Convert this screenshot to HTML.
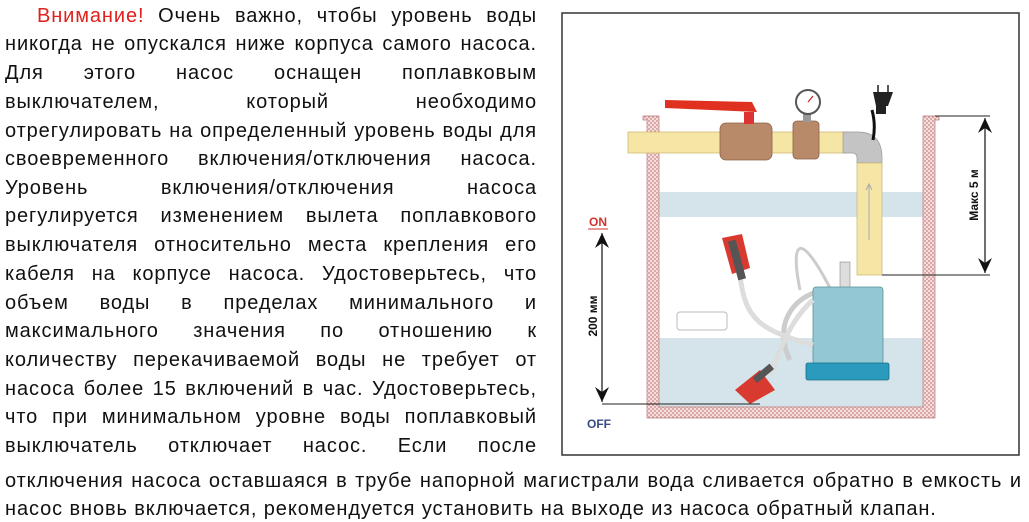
<!DOCTYPE html>
<html><head><meta charset="utf-8"><style>
html,body{margin:0;padding:0;background:#fff;width:1029px;height:522px;overflow:hidden;position:relative}
.l{position:absolute;left:5px;width:532px;font-family:"Liberation Sans",sans-serif;font-size:20px;letter-spacing:0.9px;color:#111;white-space:nowrap;text-align:justify;text-align-last:justify;line-height:22px;height:22px}
.w{width:1017px}
.r{color:#e0201c}
svg{position:absolute;left:0;top:0}
</style></head><body>
<svg width="1029" height="522" viewBox="0 0 1029 522">
<defs>
<pattern id="br" width="4" height="4" patternUnits="userSpaceOnUse"><rect width="4" height="4" fill="#f4dede"/><circle cx="1" cy="1" r="0.9" fill="#c98080"/><circle cx="3" cy="3" r="0.9" fill="#c98080"/></pattern>
<marker id="ah" markerWidth="16" markerHeight="14" refX="15" refY="7" orient="auto-start-reverse" markerUnits="userSpaceOnUse"><path d="M0,0 L15,7 L0,14 L5,7 Z" fill="#111"/></marker>
</defs>
<rect x="562" y="13" width="457" height="442" fill="#fff" stroke="#333" stroke-width="1.5"/>
<rect x="659" y="192" width="264" height="25" fill="#d4e4ea"/>
<rect x="659" y="338" width="264" height="69" fill="#d4e4ea"/>
<path d="M643,116 H659 V407 H923 V116 H939 V120 H935 V418 H647 V120 H643 Z" fill="url(#br)" stroke="#b77" stroke-width="0.7"/>
<rect x="628" y="132" width="218" height="21" fill="#f6e6a6" stroke="#c9b36a" stroke-width="0.7"/>
<path d="M843,132 H858 Q882,132 882,158 V163 H857 V158 Q857,153 852,153 H843 Z" fill="#c4c4c4" stroke="#999" stroke-width="0.7"/>
<rect x="857" y="163" width="25" height="112" fill="#f6e6a6" stroke="#c9b36a" stroke-width="0.7"/>
<path d="M869,240 V185 M866,190 L869,184 L872,190" stroke="#aaa" fill="none"/>
<rect x="720" y="123" width="52" height="37" rx="6" fill="#b88a6a" stroke="#8a6245" stroke-width="0.8"/>
<rect x="744" y="112" width="10" height="12" fill="#d33"/>
<path d="M665,100 L752,102 L757,112 L665,108 Z" fill="#e0301f"/>
<rect x="793" y="121" width="26" height="38" rx="4" fill="#b88a6a" stroke="#8a6245" stroke-width="0.8"/>
<rect x="803" y="113" width="8" height="9" fill="#999"/>
<circle cx="808" cy="102" r="12" fill="#fff" stroke="#555" stroke-width="2"/>
<line x1="808" y1="102" x2="813" y2="96" stroke="#c22" stroke-width="1.2"/>
<path d="M872,110 Q876,125 873,140" stroke="#111" stroke-width="3" fill="none"/>
<path d="M873,92 H893 L888,106 H876 Z" fill="#222"/>
<rect x="876" y="104" width="10" height="10" fill="#222"/>
<line x1="878" y1="92" x2="878" y2="85" stroke="#555" stroke-width="2"/><line x1="888" y1="92" x2="888" y2="85" stroke="#555" stroke-width="2"/>
<path d="M790,360 C770,320 800,290 830,290" stroke="#ccc" stroke-width="5" fill="none"/>
<path d="M800,290 C790,240 800,230 830,288" stroke="#ccc" stroke-width="3" fill="none"/>
<rect x="840" y="262" width="10" height="27" fill="#ddd" stroke="#888" stroke-width="0.6"/>
<rect x="813" y="287" width="70" height="77" rx="3" fill="#92c7d3" stroke="#5a8f9c" stroke-width="0.8"/>
<rect x="806" y="363" width="83" height="17" rx="2" fill="#2a9bbd" stroke="#1a6d86" stroke-width="0.8"/>
<path d="M740,275 C745,320 760,330 813,345" stroke="#ddd" stroke-width="5" fill="none"/>
<path d="M722,238 L742,234 L750,268 L732,274 Z" fill="#d83a30"/>
<rect x="733" y="240" width="8" height="40" fill="#555" transform="rotate(-15 737 260)"/>
<rect x="677" y="312" width="50" height="18" rx="3" fill="#fff" stroke="#bbb"/>
<path d="M813,300 C790,320 780,350 770,375" stroke="#ddd" stroke-width="5" fill="none"/>
<path d="M735,390 L760,370 L775,390 L750,404 Z" fill="#d83a30"/>
<rect x="752" y="370" width="22" height="7" fill="#555" transform="rotate(-40 763 373)"/>
<line x1="935" y1="116" x2="990" y2="116" stroke="#222"/>
<line x1="882" y1="275" x2="990" y2="275" stroke="#222"/>
<line x1="985" y1="118" x2="985" y2="273" stroke="#111" stroke-width="1.2" marker-start="url(#ah)" marker-end="url(#ah)"/>
<text transform="translate(978,195) rotate(-90)" text-anchor="middle" font-family="Liberation Sans,sans-serif" font-weight="bold" font-size="12" fill="#111">Макс 5 м</text>
<line x1="602" y1="404" x2="760" y2="404" stroke="#222"/>
<line x1="602" y1="233" x2="602" y2="402" stroke="#111" stroke-width="1.2" marker-start="url(#ah)" marker-end="url(#ah)"/>
<text transform="translate(597,316) rotate(-90)" text-anchor="middle" font-family="Liberation Sans,sans-serif" font-weight="bold" font-size="12" fill="#111">200 мм</text>
<text x="598" y="226" text-anchor="middle" font-family="Liberation Sans,sans-serif" font-weight="bold" font-size="12" fill="#d0342c">ON</text>
<line x1="588" y1="229" x2="608" y2="229" stroke="#d0342c"/>
<text x="599" y="428" text-anchor="middle" font-family="Liberation Sans,sans-serif" font-weight="bold" font-size="12" fill="#3a4a86">OFF</text>
</svg>
<div class="l" style="top:5px;left:37px;width:500px"><span class="r">Внимание!</span> Очень важно, чтобы уровень воды</div>
<div class="l" style="top:33px">никогда не опускался ниже корпуса самого насоса.</div>
<div class="l" style="top:62px">Для этого насос оснащен поплавковым</div>
<div class="l" style="top:91px">выключателем, который необходимо</div>
<div class="l" style="top:120px">отрегулировать на определенный уровень воды для</div>
<div class="l" style="top:148px">своевременного включения/отключения насоса.</div>
<div class="l" style="top:177px">Уровень включения/отключения насоса</div>
<div class="l" style="top:205px">регулируется изменением вылета поплавкового</div>
<div class="l" style="top:234px">выключателя относительно места крепления его</div>
<div class="l" style="top:263px">кабеля на корпусе насоса. Удостоверьтесь, что</div>
<div class="l" style="top:292px">объем воды в пределах минимального и</div>
<div class="l" style="top:320px">максимального значения по отношению к</div>
<div class="l" style="top:349px">количеству перекачиваемой воды не требует от</div>
<div class="l" style="top:378px">насоса более 15 включений в час. Удостоверьтесь,</div>
<div class="l" style="top:406px">что при минимальном уровне воды поплавковый</div>
<div class="l" style="top:435px">выключатель отключает насос. Если после</div>
<div class="l w" style="top:470px">отключения насоса оставшаяся в трубе напорной магистрали вода сливается обратно в емкость и</div>
<div class="l" style="top:498px;text-align:left;text-align-last:left;width:auto">насос вновь включается, рекомендуется установить на выходе из насоса обратный клапан.</div>
</body></html>
